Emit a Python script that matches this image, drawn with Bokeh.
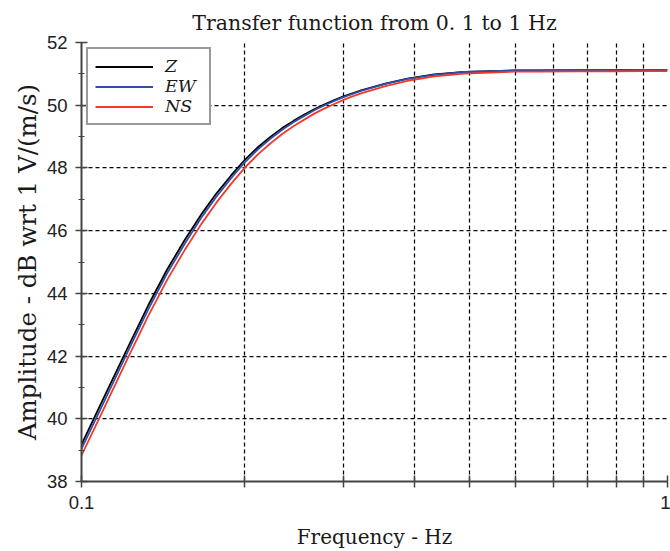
from bokeh.plotting import figure
from bokeh.models import Range1d, FixedTicker, SingleIntervalTicker, Legend, LegendItem, CustomJSTickFormatter
from bokeh.embed import file_html
from bokeh.resources import INLINE

# Data
freq = [0.10, 0.11, 0.12, 0.13, 0.14, 0.15, 0.16, 0.17, 0.18, 0.19, 0.20, 0.21, 0.22, 0.23, 0.24, 0.25,
        0.26, 0.27, 0.28, 0.29, 0.30, 0.33, 0.36, 0.40, 0.45, 0.50, 0.55, 0.60, 0.70, 0.80, 0.90, 1.00]
amp_z = [39.18, 40.80, 42.28, 43.62, 44.76, 45.70, 46.51, 47.19, 47.76, 48.26, 48.66, 48.99, 49.27, 49.50,
         49.70, 49.88, 50.03, 50.16, 50.28, 50.38, 50.47, 50.69, 50.85, 50.98, 51.06, 51.09, 51.11, 51.11,
         51.12, 51.12, 51.13, 51.13]
amp_ew = [39.04, 40.66, 42.15, 43.49, 44.64, 45.58, 46.40, 47.09, 47.67, 48.18, 48.59, 48.93, 49.22, 49.46,
          49.66, 49.85, 50.00, 50.14, 50.26, 50.36, 50.46, 50.68, 50.84, 50.97, 51.06, 51.09, 51.11, 51.11,
          51.12, 51.12, 51.13, 51.13]
amp_ns = [38.83, 40.45, 41.94, 43.28, 44.43, 45.38, 46.20, 46.90, 47.49, 48.01, 48.43, 48.78, 49.08, 49.33,
          49.54, 49.74, 49.90, 50.04, 50.17, 50.28, 50.38, 50.61, 50.78, 50.92, 51.01, 51.04, 51.07, 51.07,
          51.08, 51.08, 51.09, 51.09]
x_ticks = [0.10, 0.19, 0.28, 0.37, 0.46, 0.55, 0.64, 0.73, 0.82, 0.91, 1.00]
series_names = ["Z", "EW", "NS"]
series_colors = ["#000000", "#2d4fa6", "#f23a2a"]

SERIF = "DejaVu Serif"
SANS = "Liberation Sans"

p = figure(width=670, height=551, x_axis_type="log",
           x_range=Range1d(0.1, 1.0), y_range=Range1d(38, 52),
           output_backend="svg", toolbar_location=None,
           title="Transfer function from 0. 1 to 1 Hz")
p.min_border_left = 81
p.min_border_right = 3
p.min_border_top = 42
p.min_border_bottom = 68
p.outline_line_color = None
p.background_fill_color = "white"
p.border_fill_color = "white"

p.title.text_font = SERIF
p.title.text_font_size = "20.5px"
p.title.text_font_style = "normal"
p.title.text_color = "#1a1a1a"
p.title.align = "center"
p.title.offset = 8
p.title.standoff = 15

renderers = []
for ys, c in zip([amp_z, amp_ew, amp_ns], series_colors):
    r = p.line(freq, ys, line_color=c, line_width=1.8)
    renderers.append(r)

# x axis
p.xaxis.ticker = FixedTicker(ticks=x_ticks, minor_ticks=[])
p.xaxis.formatter = CustomJSTickFormatter(code="""
if (Math.abs(tick - 0.1) < 1e-9) { return '0.1'; }
if (Math.abs(tick - 1.0) < 1e-9) { return '1'; }
return '';
""")
p.xaxis.axis_label = "Frequency - Hz"
p.yaxis.axis_label = "Amplitude - dB wrt 1 V/(m/s)"
p.yaxis.ticker = SingleIntervalTicker(interval=2, num_minor_ticks=2)

for ax in [p.xaxis[0], p.yaxis[0]]:
    ax.axis_line_color = "#444444"
    ax.axis_line_width = 2
    ax.major_tick_line_color = "#444444"
    ax.major_tick_line_width = 1.5
    ax.minor_tick_line_color = "#444444"
    ax.minor_tick_line_width = 1.2
    ax.major_tick_in = 6
    ax.major_tick_out = 6
    ax.minor_tick_in = 3
    ax.minor_tick_out = 3
    ax.major_label_text_font = SANS
    ax.major_label_text_font_size = "18.5px"
    ax.major_label_text_color = "#222222"
    ax.axis_label_text_font = SERIF
    ax.axis_label_text_font_style = "normal"
    ax.axis_label_text_color = "#1a1a1a"

p.xaxis.axis_label_text_font_size = "20px"
p.yaxis.axis_label_text_font_size = "24.5px"
p.xaxis.major_label_standoff = 8
p.xaxis.axis_label_standoff = 13
p.yaxis.major_label_standoff = 8
p.yaxis.axis_label_standoff = 2

p.grid.grid_line_color = "black"
p.grid.grid_line_dash = "4 3"
p.grid.grid_line_width = 1.25
p.grid.grid_line_alpha = 1.0

legend = Legend(items=[LegendItem(label=n, renderers=[r]) for n, r in zip(series_names, renderers)],
                location="top_left")
legend.margin = 5
legend.padding = 7
legend.spacing = 0
legend.label_height = 19
legend.glyph_height = 19
legend.glyph_width = 58
legend.label_width = 37
legend.label_standoff = 12
legend.label_text_font = SERIF
legend.label_text_font_style = "italic"
legend.label_text_font_size = "17.5px"
legend.label_text_line_height = 1.0
legend.label_text_color = "#1a1a1a"
legend.border_line_color = "#333333"
legend.border_line_width = 2
legend.background_fill_color = "white"
legend.background_fill_alpha = 1.0
p.add_layout(legend)

open("out.html", "w").write(file_html(p, INLINE))
